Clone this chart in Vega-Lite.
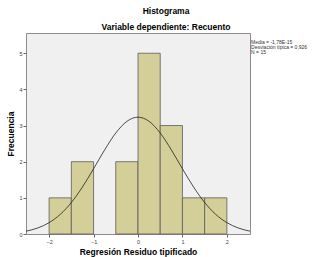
{
  "$schema": "https://vega.github.io/schema/vega-lite/v6.json",
  "width": 224,
  "height": 201,
  "autosize": {"type": "none"},
  "padding": {"left": 26, "top": 33, "right": 68, "bottom": 23},
  "background": "white",
  "config": {
    "font": "Liberation Sans",
    "view": {"fill": "#F0F0F0", "stroke": "#8C8C8C", "strokeWidth": 1}
  },
  "title": {
    "text": "Histograma",
    "subtitle": "Variable dependiente: Recuento",
    "fontSize": 8.5,
    "fontWeight": "bold",
    "subtitleFontSize": 8.5,
    "subtitleFontWeight": "bold",
    "subtitleColor": "#000",
    "color": "#000",
    "subtitlePadding": 7,
    "offset": 2,
    "anchor": "middle",
    "dx": 28
  },
  "datasets": {
    "bins": [
      {"bin_start": -2.0, "bin_end": -1.5, "count": 1},
      {"bin_start": -1.5, "bin_end": -1.0, "count": 2},
      {"bin_start": -0.5, "bin_end": 0.0, "count": 2},
      {"bin_start": 0.0, "bin_end": 0.5, "count": 5},
      {"bin_start": 0.5, "bin_end": 1.0, "count": 3},
      {"bin_start": 1.0, "bin_end": 1.5, "count": 1},
      {"bin_start": 1.5, "bin_end": 2.0, "count": 1}
    ],
    "curve": [
      {"x": -2.52, "y": 0.078},
      {"x": -2.25, "y": 0.169},
      {"x": -2.0, "y": 0.314},
      {"x": -1.75, "y": 0.542},
      {"x": -1.5, "y": 0.87},
      {"x": -1.25, "y": 1.3},
      {"x": -1.0, "y": 1.804},
      {"x": -0.75, "y": 2.328},
      {"x": -0.5, "y": 2.793},
      {"x": -0.25, "y": 3.116},
      {"x": 0.0, "y": 3.232},
      {"x": 0.25, "y": 3.116},
      {"x": 0.5, "y": 2.793},
      {"x": 0.75, "y": 2.328},
      {"x": 1.0, "y": 1.804},
      {"x": 1.25, "y": 1.3},
      {"x": 1.5, "y": 0.87},
      {"x": 1.75, "y": 0.542},
      {"x": 2.0, "y": 0.314},
      {"x": 2.25, "y": 0.169},
      {"x": 2.52, "y": 0.078}
    ],
    "stats": [
      {"label": "Media = -1,78E-15", "sx": 2.545, "sy": 5.31},
      {"label": "Desviación típica = 0,926", "sx": 2.545, "sy": 5.17},
      {"label": "N = 15", "sx": 2.545, "sy": 5.03}
    ]
  },
  "layer": [
    {
      "data": {"name": "bins"},
      "mark": {"type": "rect", "fill": "#D4CF99", "stroke": "#5A5A5A", "strokeWidth": 0.8},
      "encoding": {
        "x": {
          "field": "bin_start", "type": "quantitative",
          "scale": {"domain": [-2.52, 2.52], "nice": false, "zero": false},
          "axis": {
            "title": "Regresión Residuo tipificado",
            "values": [-2, -1, 0, 1, 2],
            "labelFontSize": 5.5, "labelColor": "#444",
            "titleFontSize": 8.5, "titleFontWeight": "bold", "titleColor": "#000",
            "titlePadding": 3,
            "domain": false, "grid": false,
            "tickColor": "#666", "tickSize": 3, "labelPadding": 2
          }
        },
        "x2": {"field": "bin_end"},
        "y": {
          "field": "count", "type": "quantitative",
          "scale": {"domain": [0, 5.56], "nice": false},
          "axis": {
            "title": "Frecuencia",
            "values": [0, 1, 2, 3, 4, 5],
            "labelFontSize": 5.5, "labelColor": "#444",
            "titleFontSize": 8.5, "titleFontWeight": "bold", "titleColor": "#000",
            "titlePadding": 3,
            "domain": false, "grid": false,
            "tickColor": "#666", "tickSize": 3, "labelPadding": 1
          }
        },
        "y2": {"datum": 0}
      }
    },
    {
      "data": {"name": "curve"},
      "mark": {"type": "line", "color": "#222", "strokeWidth": 0.8, "interpolate": "monotone", "clip": true},
      "encoding": {
        "x": {"field": "x", "type": "quantitative"},
        "y": {"field": "y", "type": "quantitative"}
      }
    },
    {
      "data": {"name": "stats"},
      "mark": {"type": "text", "align": "left", "baseline": "middle", "fontSize": 5, "color": "#333", "clip": false},
      "encoding": {
        "x": {"field": "sx", "type": "quantitative"},
        "y": {"field": "sy", "type": "quantitative"},
        "text": {"field": "label"}
      }
    }
  ]
}
